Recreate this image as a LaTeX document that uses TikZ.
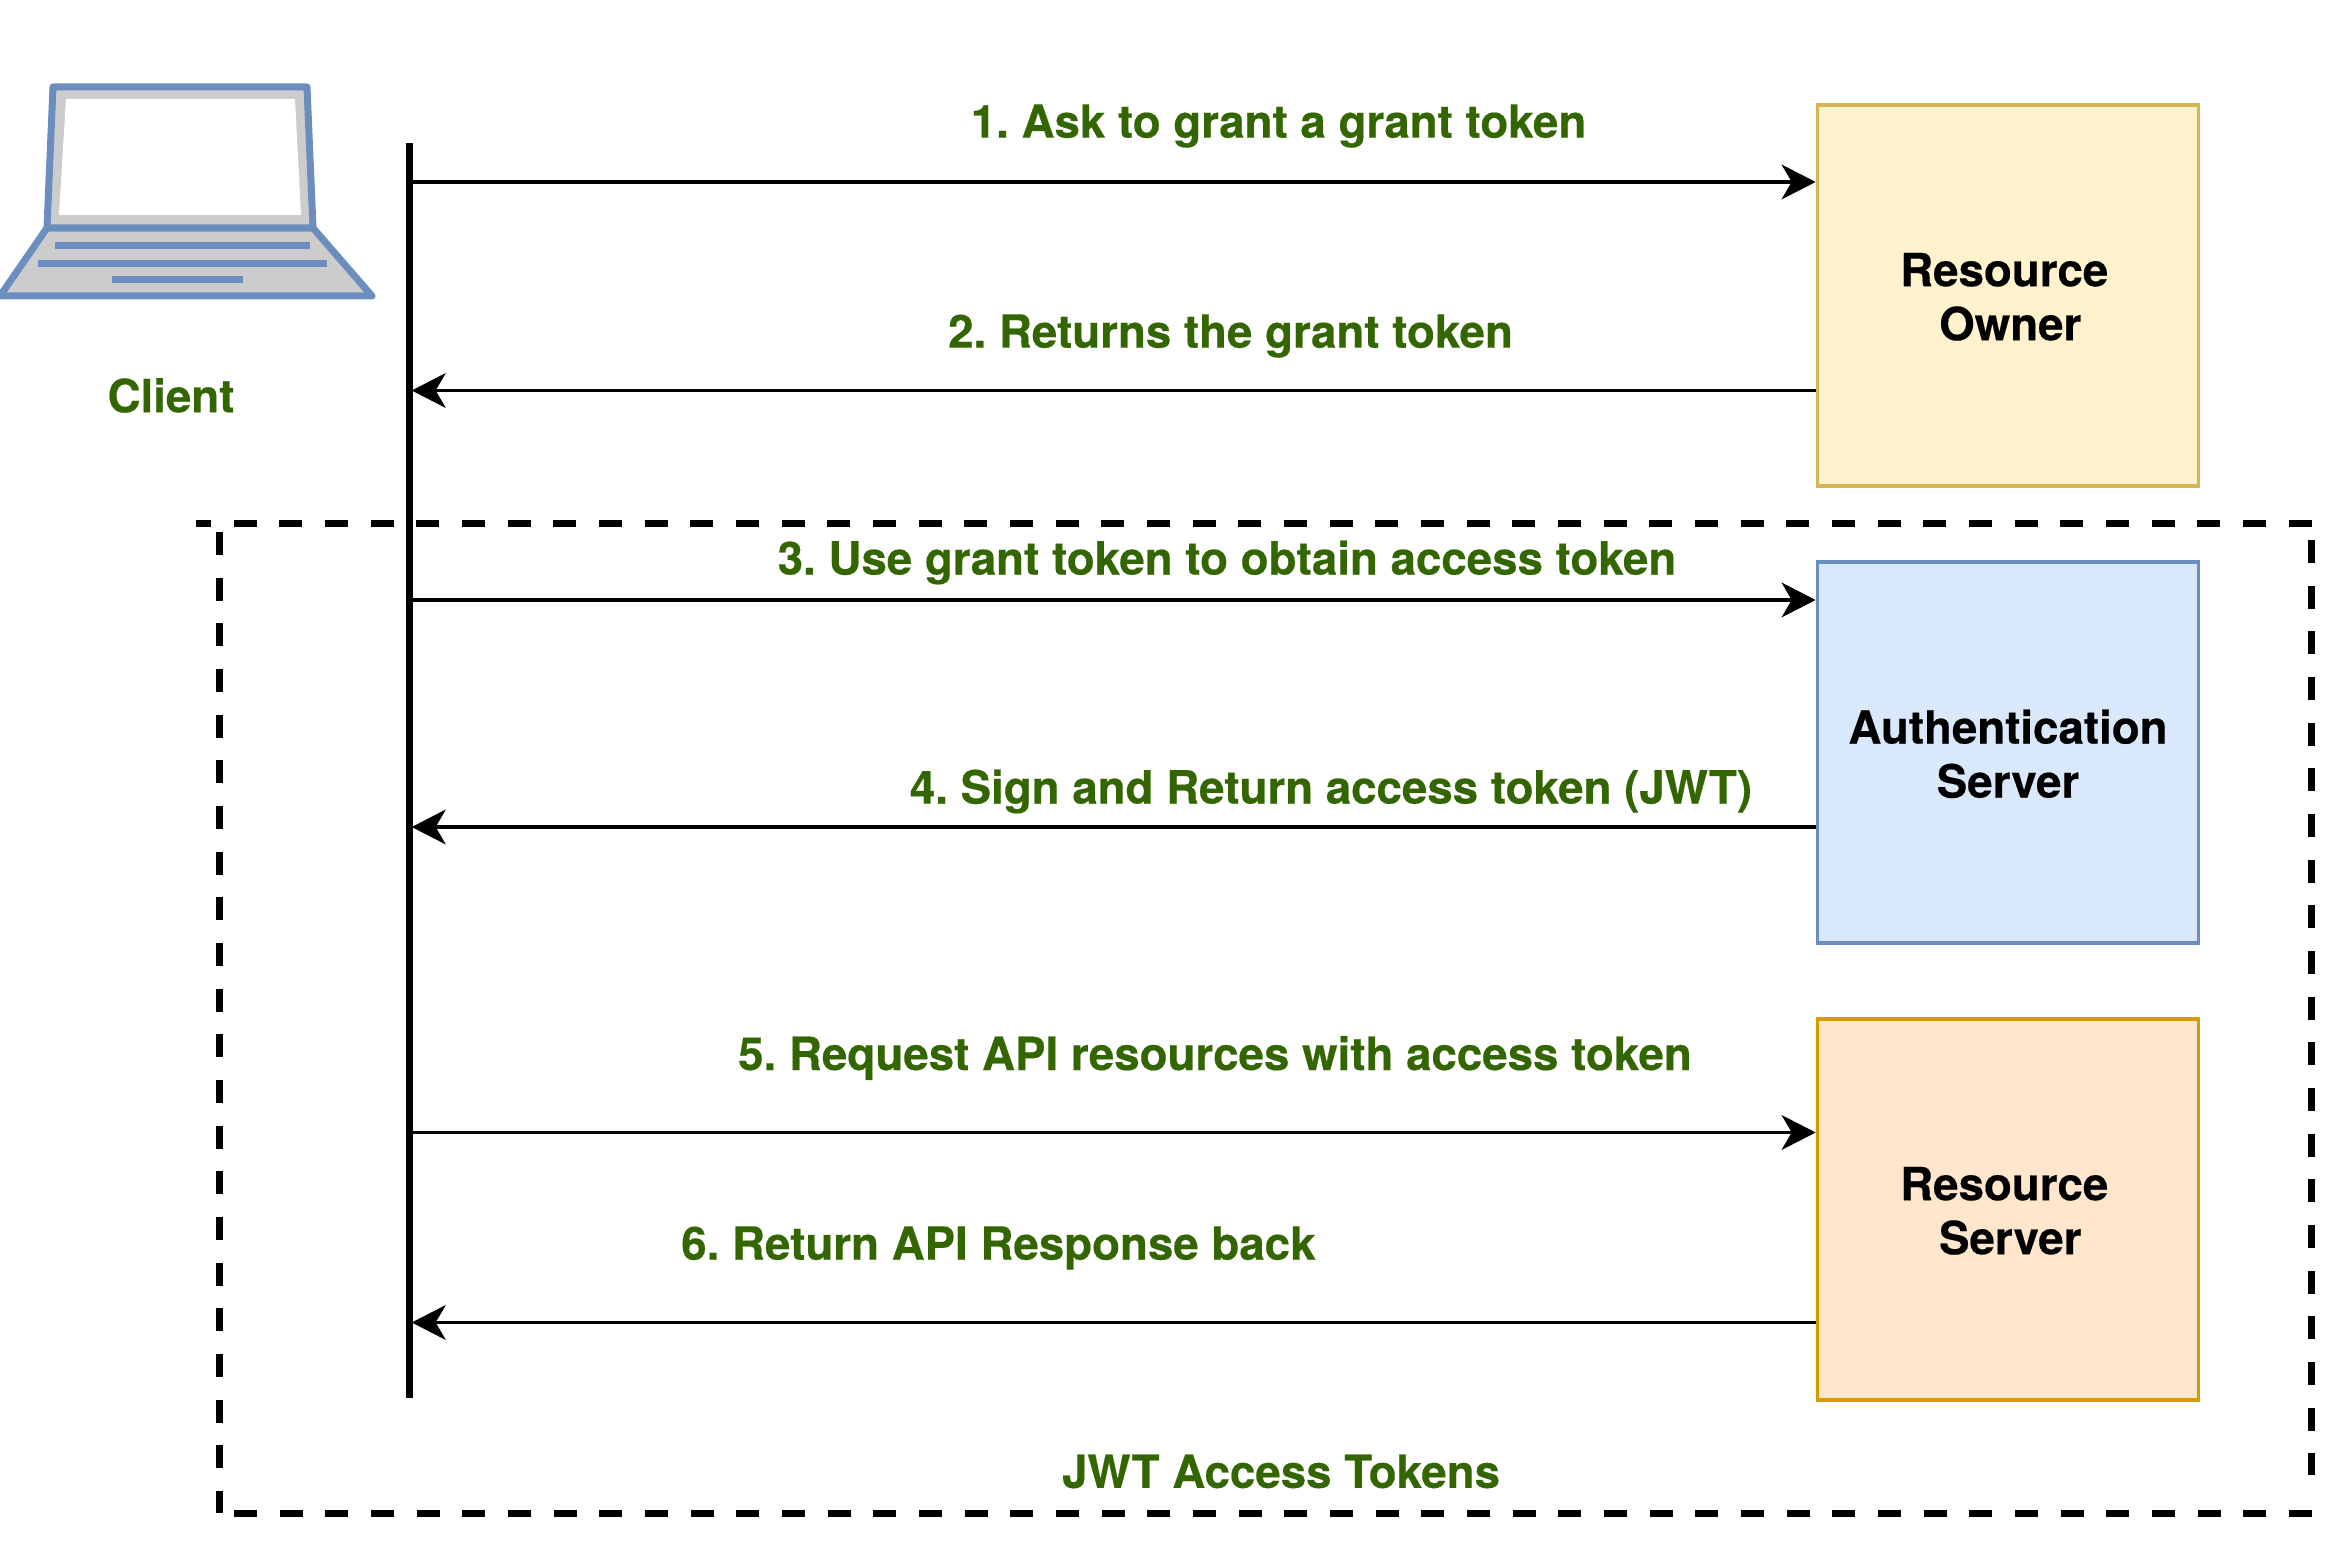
\documentclass[tikz,border=0pt]{standalone}
\usepackage{fontspec}
\setmainfont{TeX Gyre Heros}[BoldFeatures={FakeBold=0.4}]
\usetikzlibrary{arrows.meta}
\definecolor{lbl}{HTML}{336600}
\definecolor{lap}{HTML}{6C8EBF}
\newcommand\dn[1]{\raisebox{-0.4pt}[\height][\depth]{#1}}
\tikzset{
  x=0.3pt,y=-0.3pt,
  lane/.style={draw=none,fill=black,inner sep=0pt,minimum width=2.3pt,minimum height=376.5pt},
  srv/.style={line width=1pt,minimum width=114.4pt,minimum height=114.3pt,inner sep=0pt,align=center,font=\fontsize{13.7}{16.2}\selectfont\bfseries},
  flow/.style={draw=black,line width=1pt,-{Stealth[length=10.2pt,width=10.4pt,inset=3pt]}},
  flowback/.style={draw=black,line width=1pt,{Stealth[length=10.2pt,width=10.4pt,inset=3pt]}-},
  lab/.style={text=lbl,inner sep=0pt,font=\fontsize{13.7}{16.2}\selectfont\bfseries},
  frameline/.style={draw=black,line width=2.1pt,dash pattern=on 6.9pt off 6.8pt},
  lapline/.style={draw=lap,line width=2.1pt,line join=round},
}
\begin{document}
\frenchspacing
\begin{tikzpicture}
\useasboundingbox (0,0) rectangle (2346,1562);
% laptop
\path[lapline,fill=black!20] (47,228) -- (313,228) -- (372,296) -- (0,296) -- cycle;
\path[lapline,fill=black!20] (53,87) -- (307,87) -- (313,228) -- (47,228) -- cycle;
\fill[white] (66,99) -- (295,99) -- (301,215) -- (59,215) -- cycle;
\coordinate (k1a) at (55,246); \coordinate (k1b) at (310,246);
\coordinate (k2a) at (38,264); \coordinate (k2b) at (327,264);
\coordinate (k3a) at (112,280); \coordinate (k3b) at (243,280);
\draw[lapline] (k1a) -- (k1b);
\draw[lapline] (k2a) -- (k2b);
\draw[lapline] (k3a) -- (k3b);
\node[lab] (client) at (171,395.5) {Client};
% dashed frame
\coordinate (ftl) at (196,524); \coordinate (ftr) at (2312,524);
\coordinate (fll) at (219,532); \coordinate (flb) at (219,1513);
\coordinate (fbl) at (234,1513); \coordinate (fbr) at (2312,1513);
\coordinate (frt) at (2311,540); \coordinate (frb) at (2311,1475);
\draw[frameline,dash phase=2.4pt] (ftl) -- (ftr);
\draw[frameline] (fll) -- (flb);
\draw[frameline] (fbl) -- (fbr);
\draw[frameline] (frt) -- (frb);
% lifeline
\node[lane] (ll) at (409.5,771) {};
% servers
\node[srv,draw={rgb,255:red,214;green,182;blue,86},fill={rgb,255:red,255;green,242;blue,204}] (ro) at (2008,295.5) {\dn{\mbox{Resource\hspace{2.25pt}}}\\\dn{\mbox{\hspace{1.35pt}Owner}}};
\node[srv,draw=lap,fill={rgb,255:red,218;green,232;blue,252}] (as) at (2008,752.5) {\dn{Authentication}\\\dn{Server}};
\node[srv,draw={rgb,255:red,215;green,155;blue,0},fill={rgb,255:red,255;green,230;blue,204}] (rs) at (2008,1209.5) {\dn{\mbox{Resource\hspace{2.25pt}}}\\\dn{\mbox{\hspace{1.35pt}Server}}};
% connector heights
\coordinate (a1) at (ro.west |- 0,182);
\coordinate (a2) at (ro.west |- 0,390.5);
\coordinate (a3) at (as.west |- 0,600);
\coordinate (a4) at (as.west |- 0,827);
\coordinate (a5) at (rs.west |- 0,1132.5);
\coordinate (a6) at (rs.west |- 0,1322.5);
\draw[flow] (ll.center |- a1) -- (a1);
\draw[flowback] ([xshift=-0.7pt]ll.east |- a2) -- (a2);
\draw[flow] (ll.center |- a3) -- (a3);
\draw[flowback] ([xshift=-0.7pt]ll.east |- a4) -- (a4);
\draw[flow] (ll.center |- a5) -- (a5);
\draw[flowback] ([xshift=-0.7pt]ll.east |- a6) -- (a6);
% labels
\node[lab] (t1) at (1278.5,126) {1. Ask to grant a grant token};
\node[lab] (t2) at (1230.5,336) {2. Returns the grant token};
\node[lab] (t3) at (1227,562.5) {3. Use grant token to obtain access token};
\node[lab] (t4) at (1331,791.5) {4. Sign and Return access token (JWT)};
\node[lab] (t5) at (1215,1058) {5. Request API resources with access token};
\node[lab] (t6) at (998.5,1248) {6. Return API Response back};
\node[lab] (t7) at (1281,1471.5) {JWT Access Tokens};
\end{tikzpicture}
\end{document}
